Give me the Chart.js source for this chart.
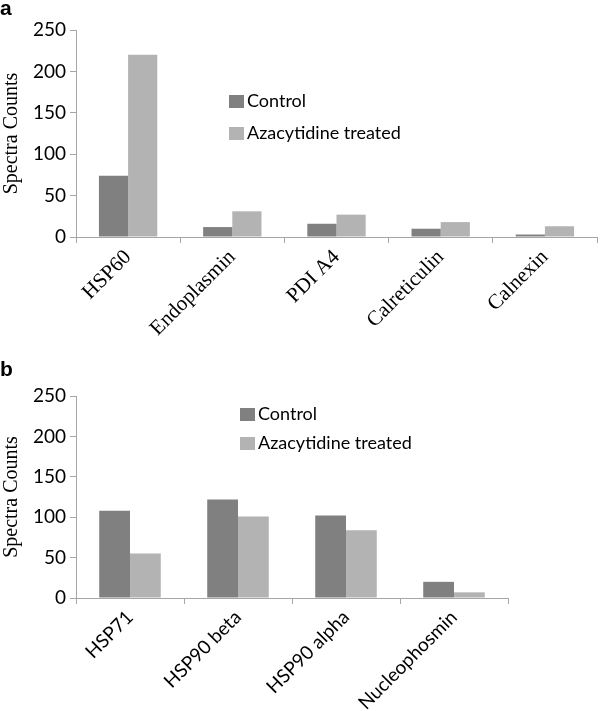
<!DOCTYPE html>
<html lang="en">
<head>
    <meta charset="UTF-8">
    <title>Spectra Counts</title>
    <style>
        body {
            margin: 0;
            padding: 0;
            background: #fff;
            width: 600px;
            height: 711px;
            position: relative;
            overflow: hidden;
        }
        .panel {
            position: absolute;
            left: 0;
            width: 600px;
        }
        .tag {
            position: absolute;
            left: 0;
            font-family: "Liberation Sans", Arial, sans-serif;
            font-weight: bold;
            font-size: 21px;
            line-height: 1;
        }
        .legend {
            position: absolute;
            font-family: Lato, sans-serif;
            font-size: 18px;
            color: #000;
        }
        .legend div {
            height: 32px;
            line-height: 32px;
            white-space: nowrap;
        }
        .legend span {
            display: inline-block;
            width: 15px;
            height: 13px;
            margin-right: 3px;
            vertical-align: -1px;
        }
    </style>
</head>
<body>

<div class="panel" style="top:0;height:355px;">
    <canvas id="chartA" width="600" height="355"></canvas>
</div>
<div class="tag" style="top:-3px;">a</div>
<div class="legend" style="left:229px;top:84px;">
    <div><span style="background:#808080"></span>Control</div>
    <div><span style="background:#b3b3b3"></span>Azacytidine treated</div>
</div>

<div class="panel" style="top:360px;height:351px;">
    <canvas id="chartB" width="600" height="351"></canvas>
</div>
<div class="tag" style="top:358px;">b</div>
<div class="legend" style="left:240px;top:399px;">
    <div style="height:29px;line-height:29px;"><span style="background:#808080"></span>Control</div>
    <div style="height:29px;line-height:29px;"><span style="background:#b3b3b3"></span>Azacytidine treated</div>
</div>

<script src="https://cdn.jsdelivr.net/npm/chart.js"></script>
<script>
    // panel a
    const labelsA = ['HSP60', 'Endoplasmin', 'PDI A4', 'Calreticulin', 'Calnexin'];
    const controlA = [74, 12, 16, 10, 3];
    const treatedA = [220, 31, 27, 18, 13];

    // panel b
    const labelsB = ['HSP71', 'HSP90 beta', 'HSP90 alpha', 'Nucleophosmin'];
    const controlB = [108, 122, 102, 20];
    const treatedB = [55, 101, 84, 7];

    const yTicks = [0, 50, 100, 150, 200, 250];

    const darkGray = '#808080';
    const lightGray = '#b3b3b3';
    const axisGray = '#a6a6a6';

    function makeChart(id, labels, control, treated, opts) {
        const ctx = document.getElementById(id).getContext('2d');
        return new Chart(ctx, {
            type: 'bar',
            data: {
                labels: labels,
                datasets: [
                    {
                        label: 'Control',
                        data: control,
                        backgroundColor: darkGray,
                        categoryPercentage: opts.catPct,
                        barPercentage: 1.0
                    },
                    {
                        label: 'Azacytidine treated',
                        data: treated,
                        backgroundColor: lightGray,
                        categoryPercentage: opts.catPct,
                        barPercentage: 1.0
                    }
                ]
            },
            options: {
                responsive: false,
                animation: false,
                layout: {
                    padding: { top: opts.top, right: opts.right, left: 0, bottom: 0 }
                },
                plugins: {
                    legend: { display: false },
                    tooltip: { enabled: false }
                },
                scales: {
                    x: {
                        afterFit: function(scale) { scale.height = opts.xHeight; },
                        grid: {
                            drawOnChartArea: false,
                            tickLength: 6,
                            color: axisGray
                        },
                        border: { color: axisGray },
                        ticks: {
                            autoSkip: false,
                            minRotation: 45,
                            maxRotation: 45,
                            color: '#000',
                            padding: 2,
                            font: opts.xFont
                        }
                    },
                    y: {
                        min: 0,
                        max: 250,
                        afterFit: function(scale) { scale.width = 76; },
                        afterBuildTicks: function(scale) {
                            scale.ticks = yTicks.map(v => ({ value: v }));
                        },
                        grid: {
                            drawOnChartArea: false,
                            tickLength: 6,
                            color: axisGray
                        },
                        border: { color: axisGray },
                        ticks: {
                            color: '#000',
                            padding: 4,
                            font: { family: 'Lato', size: 19 }
                        },
                        title: {
                            display: true,
                            text: 'Spectra Counts',
                            color: '#000',
                            padding: 0,
                            font: { family: 'Liberation Serif', size: 20 }
                        }
                    }
                }
            }
        });
    }

    makeChart('chartA', labelsA, controlA, treatedA, {
        catPct: 0.56,
        top: 30,
        right: 3,
        xHeight: 118,
        xFont: { family: 'Liberation Serif', size: 21 }
    });

    makeChart('chartB', labelsB, controlB, treatedB, {
        catPct: 0.57,
        top: 36,
        right: 92,
        xHeight: 113,
        xFont: { family: 'Lato', size: 19 }
    });
</script>

</body>
</html>
